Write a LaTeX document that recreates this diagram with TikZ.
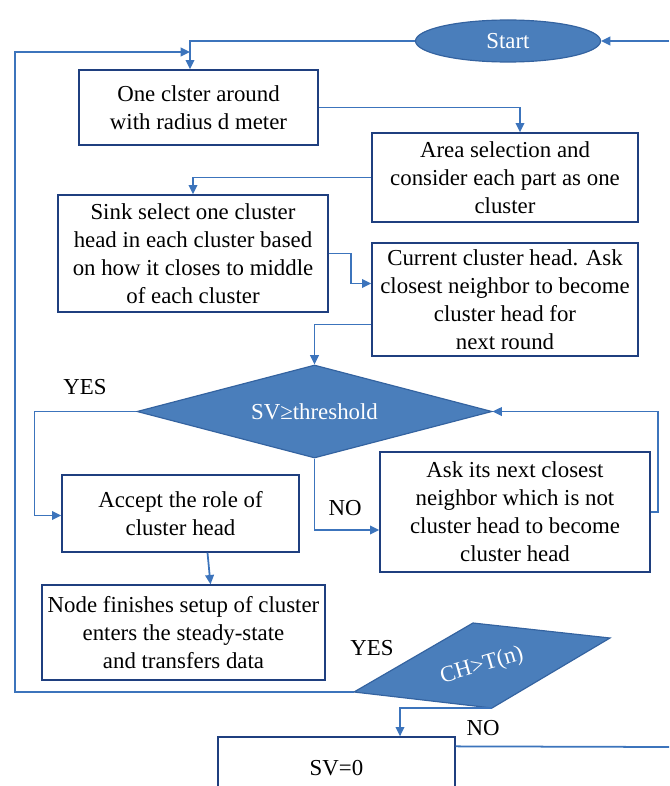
\documentclass[tikz,border=0pt]{standalone}
\usepackage{fontspec}
\setmainfont{Liberation Serif}
\usetikzlibrary{positioning,calc,shapes,arrows.meta}
\definecolor{flowblue}{HTML}{4A7EBB}
\definecolor{flowedge}{HTML}{3463A0}
\definecolor{boxedge}{HTML}{1F3F7F}
\definecolor{linkblue}{HTML}{3C74BC}

\begin{document}
\begin{tikzpicture}[x=0.03cm,y=-0.03cm,
    box/.style={draw=boxedge,line width=1.1pt,fill=white,align=center,inner sep=1pt,font=\fontsize{19.5}{24}\selectfont},
    filled/.style={fill=flowblue,draw=flowedge,line width=1pt,text=white,inner sep=1pt,font=\fontsize{19.5}{24}\selectfont},
    link/.style={draw=linkblue,line width=1.5pt,-{Triangle[length=2.8mm,width=2.6mm]}},
    plain/.style={draw=linkblue,line width=1.5pt},
    lbl/.style={font=\fontsize{19.5}{24}\selectfont}]

    \useasboundingbox (0,0) rectangle (669,786);
    \clip (0,0) rectangle (669,786);

    \node[filled,ellipse,minimum width=5.55cm,minimum height=1.26cm] (Start) at (508,41) {Start};

    \node[box,minimum width=7.17cm,minimum height=2.25cm] (box1) at (198.5,107.5) {One clster around\\with radius d meter};
    \node[box,minimum width=7.98cm,minimum height=2.67cm] (box2) at (505,177.5) {Area selection and\\consider each part as one\\cluster};
    \node[box,minimum width=8.1cm,minimum height=3.51cm] (box3) at (193,253.5) {Sink select one cluster\\head in each cluster based\\on how it closes to middle\\of each cluster};
    \node[box,minimum width=7.98cm,minimum height=3.39cm] (box4) at (505,299.5) {Current cluster head. Ask\\closest neighbor to become\\cluster head for\\next round};

    \node[filled,diamond,shape aspect=3.8,minimum width=10.65cm,minimum height=2.79cm] (dia) at (314.5,411.5) {SV≥threshold};

    \node[box,minimum width=7.11cm,minimum height=2.31cm] (box5) at (180.5,513.5) {Accept the role of\\cluster head};
    \node[box,minimum width=8.1cm,minimum height=3.6cm] (box6) at (515,512) {Ask its next closest\\neighbor which is not\\cluster head to become\\cluster head};
    \node[box,minimum width=8.49cm,minimum height=2.85cm] (box7) at (183.5,632.5) {Node finishes setup of cluster\\enters the steady-state\\and transfers data};

    % slanted CH box
    \coordinate (pL) at (354,692);
    \coordinate (pT) at (473,623);
    \coordinate (pR) at (610,638);
    \coordinate (pB) at (492,708);
    \filldraw[fill=flowblue,draw=flowedge,line width=1pt] (pL) -- (pT) -- (pR) -- (pB) -- cycle;
    \node[text=white,inner sep=0pt,font=\fontsize{19.5}{22}\selectfont,rotate=16] (chk) at (482,666) {CH>T(n)};

    \node[box,minimum width=7.11cm,minimum height=1.89cm] (box8) at (336.5,768.5) {SV=0};

    \node[lbl] (yes1) at (85,387) {YES};
    \node[lbl] (no1) at (345,508) {NO};
    \node[lbl] (yes2) at (372,648) {YES};
    \node[lbl] (no2) at (483,728) {NO};

    \coordinate (entryR) at (669,41);
    \coordinate (exitR) at (669,747);
    \coordinate (loopTop) at (15,52);
    \coordinate (loopEnd) at (190,52);

    \draw[link] (entryR) -- (Start.east);
    \draw[link] (Start.west) -| ($(box1.north)+(-8.5,0)$);
    \draw[link] (box1.east) -| ($(box2.north)+(15,0)$);
    \draw[link] (box2.west) -| (box3.north);
    \draw[link] (box3.east) -- ++(22,0) |- ($(box4.west)+(0,-16)$);
    \draw[link] ($(box4.west)+(0,25)$) -| (dia.north);
    \draw[link] (dia.west) -- ++(-102,0) |- ($(box5.west)+(0,2)$);
    \draw[link] (dia.south) |- ($(box6.west)+(0,18)$);
    \draw[link] (box6.east) -- ++(7,0) |- (dia.east);
    \draw[link] ($(box5.south)+(27,0)$) -- ($(box7.north)+(27,0)$);
    \draw[link] (pB) -| ($(box8.north)+(63.5,0)$);
    \draw[plain] ($(box8.north east)+(0,10)$) -- (exitR);

    % back to the top
    \draw[link] (pL) -| (loopTop) -- (loopEnd);

\end{tikzpicture}
\end{document}
